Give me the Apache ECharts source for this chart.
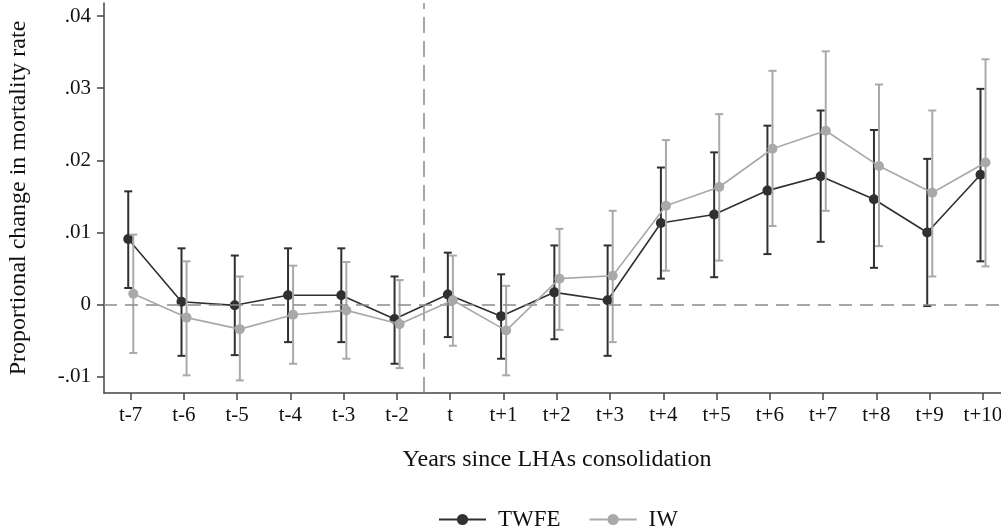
<!DOCTYPE html>
<html>
<head>
<meta charset="utf-8">
<script src="https://cdn.jsdelivr.net/npm/echarts@6/dist/echarts.min.js"></script>
<style>
  html, body { margin: 0; padding: 0; background: #fff; }
  #chart { width: 1001px; height: 531px; }
</style>
</head>
<body>
<div id="chart"></div>
<script>
// Event-study estimates: proportional change in mortality rate by year relative to consolidation
const categories = ['t-7','t-6','t-5','t-4','t-3','t-2','t','t+1','t+2','t+3','t+4','t+5','t+6','t+7','t+8','t+9','t+10'];

const twfeEstimate = [0.0091, 0.0004, -0.0001, 0.0013, 0.0013, -0.0020, 0.0014, -0.0016, 0.0017, 0.0006, 0.0113, 0.0125, 0.0158, 0.0178, 0.0146, 0.0100, 0.0180];
const twfeUpper    = [0.0157, 0.0078, 0.0068, 0.0078, 0.0078, 0.0039, 0.0072, 0.0042, 0.0082, 0.0082, 0.0190, 0.0211, 0.0248, 0.0269, 0.0242, 0.0202, 0.0299];
const twfeLower    = [0.0023, -0.0071, -0.0070, -0.0052, -0.0052, -0.0082, -0.0045, -0.0075, -0.0048, -0.0071, 0.0036, 0.0038, 0.0070, 0.0087, 0.0051, -0.0002, 0.0060];

const iwEstimate = [0.0015, -0.0018, -0.0034, -0.0014, -0.0008, -0.0027, 0.0006, -0.0036, 0.0036, 0.0040, 0.0137, 0.0163, 0.0216, 0.0241, 0.0192, 0.0155, 0.0197];
const iwUpper    = [0.0097, 0.0060, 0.0039, 0.0054, 0.0059, 0.0034, 0.0068, 0.0026, 0.0105, 0.0130, 0.0228, 0.0264, 0.0324, 0.0351, 0.0305, 0.0269, 0.0340];
const iwLower    = [-0.0067, -0.0098, -0.0105, -0.0082, -0.0075, -0.0088, -0.0057, -0.0098, -0.0035, -0.0052, 0.0047, 0.0061, 0.0109, 0.0130, 0.0081, 0.0039, 0.0053];

const yTickValues = [-0.01, 0, 0.01, 0.02, 0.03, 0.04];
const yTickLabels = ['-.01', '0', '.01', '.02', '.03', '.04'];

// Treatment timing: reference line drawn between t-2 and t
const treatmentBreak = 5.5;

const TWFE_COLOR = '#303030';
const IW_COLOR = '#a9a9a9';
const FONT = '"Liberation Serif", "DejaVu Serif", serif';

// small horizontal dodge so the two estimators' bars don't overlap
const TWFE_SHIFT = -0.045;
const IW_SHIFT = 0.05;

const xIndex = categories.map((_, i) => i);

function pointData(est, shift) {
  return est.map((v, i) => [i + shift, v]);
}
function ciData(lo, hi, shift) {
  return lo.map((v, i) => [i + shift, v, hi[i]]);
}

function errorBarRenderer(color) {
  return function (params, api) {
    const x = api.value(0);
    const lo = api.coord([x, api.value(1)]);
    const hi = api.coord([x, api.value(2)]);
    const cap = 4;
    const style = { stroke: color, lineWidth: 2 };
    return {
      type: 'group',
      children: [
        { type: 'line', shape: { x1: lo[0], y1: lo[1], x2: hi[0], y2: hi[1] }, style },
        { type: 'line', shape: { x1: hi[0] - cap, y1: hi[1], x2: hi[0] + cap, y2: hi[1] }, style },
        { type: 'line', shape: { x1: lo[0] - cap, y1: lo[1], x2: lo[0] + cap, y2: lo[1] }, style }
      ]
    };
  };
}

const chart = echarts.init(document.getElementById('chart'), null, { renderer: 'canvas' });

chart.setOption({
  animation: false,
  backgroundColor: '#fff',
  textStyle: { fontFamily: FONT },
  grid: { left: 104, right: 0, top: 3, bottom: 138, outerBoundsMode: 'none', containLabel: false },
  xAxis: {
    type: 'value',
    min: -0.5,
    max: 16.34,
    name: 'Years since LHAs consolidation',
    nameLocation: 'middle',
    nameGap: 55,
    nameTextStyle: { fontFamily: FONT, fontSize: 24, color: '#111', padding: [0, 0, 0, 9] },
    splitLine: { show: false },
    axisLine: { show: true, onZero: false, lineStyle: { color: '#444', width: 1.5 } },
    axisTick: { show: true, length: 7, customValues: xIndex, lineStyle: { color: '#444', width: 1.5 } },
    axisLabel: {
      customValues: xIndex,
      margin: 12,
      fontFamily: FONT, fontSize: 21, color: '#111',
      formatter: v => categories[Math.round(v)] || ''
    }
  },
  yAxis: {
    type: 'value',
    min: -0.01225,
    max: 0.0418,
    name: 'Proportional change in mortality rate',
    nameLocation: 'middle',
    nameGap: 73,
    nameTextStyle: { fontFamily: FONT, fontSize: 24, color: '#111' },
    splitLine: { show: false },
    axisLine: { show: true, onZero: false, lineStyle: { color: '#444', width: 1.5 } },
    axisTick: { show: true, length: 7, customValues: yTickValues, lineStyle: { color: '#444', width: 1.5 } },
    axisLabel: {
      customValues: yTickValues,
      margin: 13,
      fontFamily: FONT, fontSize: 21, color: '#111',
      formatter: v => {
        const k = yTickValues.findIndex(t => Math.abs(t - v) < 1e-9);
        return k >= 0 ? yTickLabels[k] : '';
      }
    }
  },
  legend: {
    left: 438,
    top: 508,
    padding: 0,
    itemWidth: 47,
    itemHeight: 14,
    itemGap: 28,
    textStyle: { fontFamily: FONT, fontSize: 23, color: '#111', padding: [0, 0, 0, 7] },
    data: ['TWFE', 'IW']
  },
  series: [
    {
      // reference lines: zero effect and treatment onset
      type: 'line',
      data: [],
      silent: true,
      z: 1,
      markLine: {
        silent: true,
        symbol: 'none',
        label: { show: false },
        data: [
          { yAxis: 0, lineStyle: { color: '#8a8a8a', width: 1.5, type: [13, 8] } },
          { xAxis: treatmentBreak, lineStyle: { color: '#8a8a8a', width: 1.5, type: [16, 8] } }
        ]
      }
    },
    {
      name: 'TWFE-ci',
      type: 'custom',
      z: 2,
      renderItem: errorBarRenderer(TWFE_COLOR),
      data: ciData(twfeLower, twfeUpper, TWFE_SHIFT)
    },
    {
      name: 'TWFE',
      type: 'line',
      z: 3,
      data: pointData(twfeEstimate, TWFE_SHIFT),
      symbol: 'circle',
      symbolSize: 10,
      color: TWFE_COLOR,
      lineStyle: { color: TWFE_COLOR, width: 1.6 },
      itemStyle: { color: TWFE_COLOR }
    },
    {
      name: 'IW-ci',
      type: 'custom',
      z: 4,
      renderItem: errorBarRenderer(IW_COLOR),
      data: ciData(iwLower, iwUpper, IW_SHIFT)
    },
    {
      name: 'IW',
      type: 'line',
      z: 5,
      data: pointData(iwEstimate, IW_SHIFT),
      symbol: 'circle',
      symbolSize: 10,
      color: IW_COLOR,
      lineStyle: { color: IW_COLOR, width: 1.6 },
      itemStyle: { color: IW_COLOR }
    }
  ]
});
</script>
</body>
</html>
